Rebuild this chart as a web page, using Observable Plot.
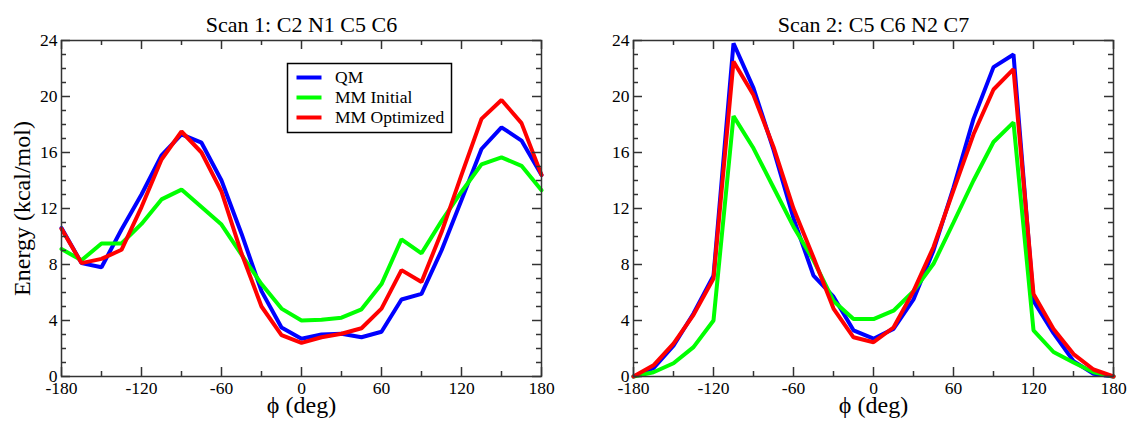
<!DOCTYPE html>
<html>
<head>
<meta charset="utf-8">
<script src="https://cdn.jsdelivr.net/npm/d3@7"></script>
<script src="https://cdn.jsdelivr.net/npm/@observablehq/plot@0.6"></script>
<style>
  html, body { margin: 0; padding: 0; background: #fff; }
  #wrap { display: flex; width: 1129px; height: 421px; overflow: hidden; }
  #wrap svg { display: block; }
</style>
</head>
<body>
<div id="wrap"></div>
<script>
// ---- data ----
const phi = [-180, -165, -150, -135, -120, -105, -90, -75, -60, -45, -30, -15, 0, 15, 30, 45, 60, 75, 90, 105, 120, 135, 150, 165, 180];

const scan1QM          = [10.6, 8.1, 7.8, 10.5, 13.0, 15.8, 17.3, 16.7, 14.0, 10.2, 6.1, 3.5, 2.7, 3.0, 3.05, 2.8, 3.2, 5.5, 5.9, 9.0, 12.6, 16.25, 17.8, 16.85, 14.4];
const scan1MMInitial   = [9.1, 8.3, 9.5, 9.5, 10.9, 12.65, 13.35, 12.1, 10.85, 8.7, 6.6, 4.85, 4.0, 4.05, 4.2, 4.8, 6.6, 9.8, 8.8, 11.1, 13.2, 15.15, 15.65, 15.05, 13.3];
const scan1MMOptimized = [10.55, 8.1, 8.4, 9.05, 12.1, 15.5, 17.5, 16.0, 13.2, 8.8, 5.0, 2.95, 2.4, 2.8, 3.05, 3.45, 4.85, 7.6, 6.75, 10.3, 14.4, 18.4, 19.75, 18.1, 14.4];

const scan2QM          = [0.0, 0.6, 2.2, 4.5, 7.2, 23.8, 20.6, 16.2, 11.3, 7.2, 5.7, 3.3, 2.7, 3.4, 5.5, 9.0, 13.5, 18.4, 22.1, 23.0, 5.4, 3.1, 1.1, 0.2, 0.0];
const scan2MMInitial   = [0.0, 0.3, 0.95, 2.1, 4.0, 18.6, 16.3, 13.5, 10.7, 8.3, 5.4, 4.1, 4.1, 4.7, 6.1, 8.05, 11.0, 14.0, 16.75, 18.15, 3.3, 1.75, 1.0, 0.3, 0.0];
const scan2MMOptimized = [0.0, 0.8, 2.35, 4.4, 7.0, 22.5, 20.1, 16.4, 12.0, 8.5, 4.85, 2.8, 2.45, 3.5, 6.1, 9.25, 13.3, 17.3, 20.5, 21.95, 5.9, 3.4, 1.6, 0.5, 0.0];

const seriesNames  = ["QM", "MM Initial", "MM Optimized"];
const seriesColors = ["#0000ff", "#00ff00", "#ff0000"];

const panelTitles = ["Scan 1: C2 N1 C5 C6", "Scan 2: C5 C6 N2 C7"];
const xLabel = "\u03d5 (deg)";
const yLabel = "Energy (kcal/mol)";

const xTickLabels = [-180, -120, -60, 0, 60, 120, 180];
const xMinorTicks = [-150, -90, -30, 30, 90, 150];
const yTickLabels = [0, 4, 8, 12, 16, 20, 24];
const yMinorTicks = [1, 2, 3, 5, 6, 7, 9, 10, 11, 13, 14, 15, 17, 18, 19, 21, 22, 23];

// ---- drawing ----
const FONT = "'Liberation Serif', 'Times New Roman', Times, serif";
const FW = 480, FH = 336, MAJ = 9, MIN = 5;

function legendMark() {
  return () => {
    const g = d3.create("svg:g");
    g.append("rect").attr("x", 287.5).attr("y", 63.5).attr("width", 164).attr("height", 69)
      .attr("fill", "#fff").attr("stroke", "#000").attr("stroke-width", 1.5);
    const ys = [77.5, 97.5, 117.5];
    seriesNames.forEach((n, i) => {
      g.append("line").attr("x1", 296.5).attr("x2", 321.5).attr("y1", ys[i]).attr("y2", ys[i])
        .attr("stroke", seriesColors[i]).attr("stroke-width", 4);
      g.append("text").attr("x", 335).attr("y", ys[i] + 5.5).attr("font-size", 17.5)
        .attr("text-anchor", "start")
        .attr("font-family", FONT).attr("fill", "#000").text(n);
    });
    return g.node();
  };
}

function panel({title, series, width, marginLeft, marginRight, showYLabel, legend}) {
  const rows = [];
  series.forEach((vals, i) => vals.forEach((v, j) => rows.push({phi: phi[j], energy: v, name: seriesNames[i]})));
  const tickStyle = {stroke: "#333", strokeWidth: 1.5};
  const marks = [
    Plot.line(rows, {x: "phi", y: "energy", z: "name", stroke: "name", strokeWidth: 4, strokeLinejoin: "miter"}),
    Plot.frame({stroke: "#333", strokeWidth: 1.5}),
    // inward ticks: bottom & top
    Plot.tickX(xTickLabels, {x: d => d, insetTop: FH - MAJ, ...tickStyle}),
    Plot.tickX(xMinorTicks, {x: d => d, insetTop: FH - MIN, ...tickStyle}),
    Plot.tickX(xTickLabels, {x: d => d, insetBottom: FH - MAJ, ...tickStyle}),
    Plot.tickX(xMinorTicks, {x: d => d, insetBottom: FH - MIN, ...tickStyle}),
    // inward ticks: left & right
    Plot.tickY(yTickLabels, {y: d => d, insetRight: FW - MAJ, ...tickStyle}),
    Plot.tickY(yMinorTicks, {y: d => d, insetRight: FW - MIN, ...tickStyle}),
    Plot.tickY(yTickLabels, {y: d => d, insetLeft: FW - MAJ, ...tickStyle}),
    Plot.tickY(yMinorTicks, {y: d => d, insetLeft: FW - MIN, ...tickStyle}),
    Plot.axisX(xTickLabels, {tickSize: 0, tickPadding: 5, label: null, tickFormat: d => String(d), fontSize: 17.5, fontFamily: FONT}),
    Plot.axisY(yTickLabels, {tickSize: 0, tickPadding: 4, label: null, tickFormat: d => String(d), fontSize: 17.5, fontFamily: FONT}),
    Plot.text([title], {frameAnchor: "top", lineAnchor: "middle", textAnchor: "middle", dy: -16, fontSize: 22, fontFamily: FONT, text: d => d}),
    Plot.text([xLabel], {frameAnchor: "bottom", lineAnchor: "middle", textAnchor: "middle", dy: 29, fontSize: 24, fontFamily: FONT, text: d => d})
  ];
  if (showYLabel) marks.push(Plot.text([yLabel], {frameAnchor: "left", lineAnchor: "middle", textAnchor: "middle", dx: -39, rotate: -90, fontSize: 24, fontFamily: FONT, text: d => d}));
  if (legend) marks.push(legendMark());
  return Plot.plot({
    width, height: 421,
    marginLeft, marginRight, marginTop: 40, marginBottom: 45,
    x: {domain: [-180, 180]},
    y: {domain: [0, 24]},
    color: {domain: seriesNames, range: seriesColors},
    style: {fontFamily: FONT, fontSize: "17.5px", color: "#000", background: "#fff", overflow: "visible"},
    marks
  });
}

const wrap = document.getElementById("wrap");
wrap.append(panel({
  title: panelTitles[0], series: [scan1QM, scan1MMInitial, scan1MMOptimized],
  width: 565, marginLeft: 61, marginRight: 24, showYLabel: true, legend: true
}));
wrap.append(panel({
  title: panelTitles[1], series: [scan2QM, scan2MMInitial, scan2MMOptimized],
  width: 564, marginLeft: 68, marginRight: 16, showYLabel: false, legend: false
}));
</script>
</body>
</html>
